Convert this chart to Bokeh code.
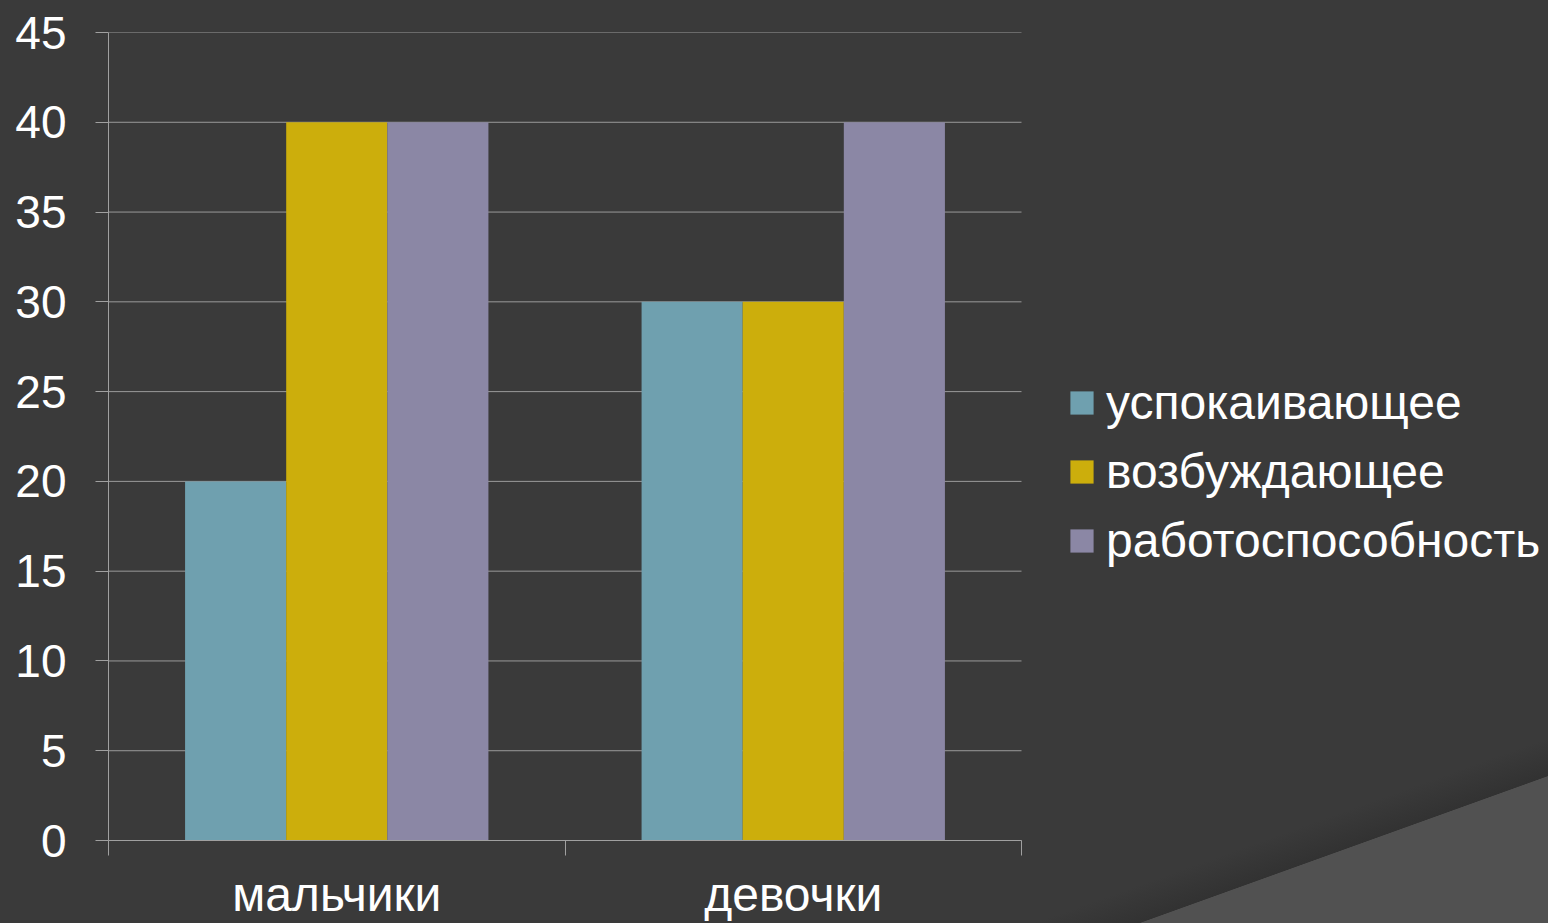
from bokeh.plotting import figure
from bokeh.models import (ColumnDataSource, FixedTicker, Range1d, Legend, LegendItem)
from bokeh.embed import file_html
from bokeh.resources import INLINE

categories = ["мальчики", "девочки"]
series = ["успокаивающее", "возбуждающее", "работоспособность"]
calming = [20, 30]
exciting = [40, 30]
workability = [40, 40]
y_ticks = [0, 5, 10, 15, 20, 25, 30, 35, 40, 45]

colors = ["#6fa0af", "#ccae0c", "#8b87a5"]
values = [calming, exciting, workability]
offsets = [-0.2215, 0.0, 0.2215]
bar_w = 0.2215

W, H = 1548, 923
left, top, bottom = 108, 32, 83
plot_px = 913                      # pixel width of the category area
n = len(categories)
x_end = n * (W - left) / plot_px   # frame extends to the right edge for the legend

p = figure(width=W, height=H, output_backend="svg", toolbar_location=None,
           x_range=Range1d(0, x_end), y_range=Range1d(0, 45),
           min_border_left=left, min_border_right=0, min_border_top=top,
           min_border_bottom=bottom)
p.border_fill_color = None
p.background_fill_color = None
p.outline_line_color = None
# slide-like background with lighter swoosh at the bottom right
p.styles = {"background": "linear-gradient(160.2deg, #3a3a3a 0%, #3a3a3a 87.5%, "
                          "#323232 90.05%, #515151 90.1%, #515151 100%)"}

# horizontal grid lines limited to the category area
p.segment(x0=[0] * len(y_ticks), x1=[n] * len(y_ticks), y0=y_ticks, y1=y_ticks,
          line_color="#9a9a9a", line_width=1)

renderers = []
for vals, off, col in zip(values, offsets, colors):
    src = ColumnDataSource(dict(x=[i + 0.5 + off for i in range(n)], top=vals))
    r = p.vbar(x="x", top="top", width=bar_w, bottom=0, source=src,
               fill_color=col, line_color=None)
    renderers.append(r)

p.xgrid.grid_line_color = None
p.ygrid.grid_line_color = None

# y axis
p.yaxis.ticker = FixedTicker(ticks=y_ticks)
p.yaxis.major_tick_out = 13
p.yaxis.major_tick_in = 0
p.yaxis.minor_tick_line_color = None
p.yaxis.major_label_standoff = 29
p.yaxis.major_label_text_font = "Liberation Sans"
p.yaxis.major_label_text_font_size = "46px"
p.yaxis.major_label_text_color = "white"
p.yaxis.axis_line_color = "#a0a0a0"
p.yaxis.major_tick_line_color = "#a0a0a0"

# x axis
p.xaxis.bounds = (0, n)
p.xaxis.ticker = FixedTicker(ticks=[i + 0.5 for i in range(n)],
                             minor_ticks=list(range(n + 1)))
p.xaxis.major_label_overrides = {i + 0.5: c for i, c in enumerate(categories)}
p.xaxis.major_tick_line_color = None
p.xaxis.minor_tick_out = 15
p.xaxis.minor_tick_in = 0
p.xaxis.minor_tick_line_color = "#a0a0a0"
p.xaxis.axis_line_color = "#a0a0a0"
p.xaxis.major_label_standoff = 12
p.xaxis.major_label_text_font = "Liberation Sans"
p.xaxis.major_label_text_font_size = "48px"
p.xaxis.major_label_text_color = "white"

legend = Legend(items=[LegendItem(label=s, renderers=[r]) for s, r in zip(series, renderers)],
                location=(959, 272), orientation="vertical",
                background_fill_alpha=0, border_line_color=None,
                label_text_font="Liberation Sans", label_text_font_size="48px",
                label_text_color="white", glyph_width=29, glyph_height=29,
                label_standoff=10, spacing=14, padding=0, margin=0)
p.add_layout(legend, "center")

open("out.html", "w").write(file_html(p, INLINE))
